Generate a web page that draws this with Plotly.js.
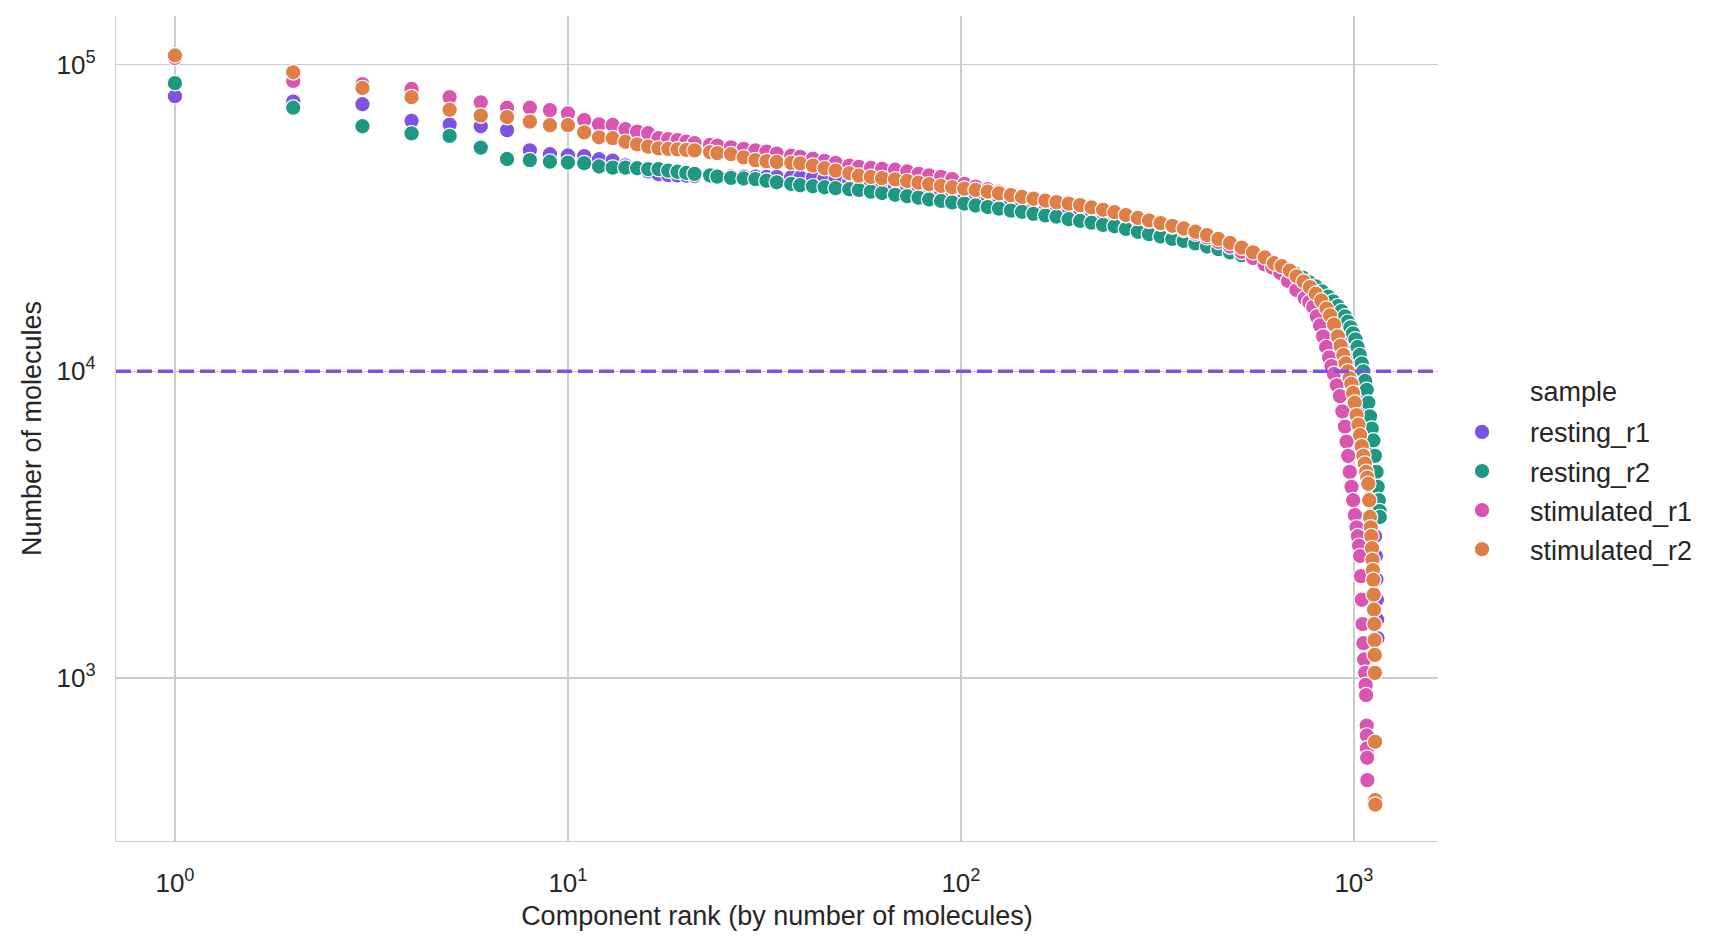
<!DOCTYPE html>
<html>
<head>
<meta charset="utf-8">
<script src="https://cdn.plot.ly/plotly-3.0.1.min.js"></script>
<style>
  html, body { margin: 0; padding: 0; background: #fff; }
  #myDiv { width: 1714px; height: 945px; }
</style>
</head>
<body>
<div id="myDiv"></div>
<script>
// component rank shared by all samples up to ~600
const HEAD_RANK = [1, 2, 3, 4, 5, 6, 7, 8, 9, 10, 11, 12, 13, 14, 15, 16, 17, 18, 19,
    20, 21, 23, 24, 26, 28, 30, 32, 34, 37, 39, 42, 45, 48, 52, 55, 59, 63, 68, 73,
    78, 83, 89, 95, 102, 109, 117, 125, 134, 143, 153, 164, 175, 188, 201, 215, 230, 246, 263, 282,
    301, 322, 345, 369, 395, 423, 452, 484, 518, 554, 593];

const RESTING_R1_HEAD = [78800, 75700, 74200, 65500, 63700, 62900, 61100, 52500, 51000, 50500, 50300, 49100, 48600, 46900, 45800, 44800, 43900, 43600, 43500,
    43400, 43300, 43300, 43200, 43200, 43100, 43100, 43000, 43000, 42900, 42800, 42700, 42500, 42200, 41800, 41400, 40900, 40400, 39800, 39300,
    38800, 38400, 37900, 37400, 37000, 36500, 36000, 35600, 35100, 34700, 34200, 33800, 33400, 32900, 32500, 32000, 31500, 31000, 30400, 29800,
    29300, 28700, 28200, 27600, 27000, 26400, 25800, 25100, 24400, 23700, 23000];
const RESTING_R2_HEAD = [86900, 72300, 62900, 59600, 58500, 53600, 49200, 48800, 48200, 47900, 47700, 46500, 46100, 46100, 45900, 45600, 45600, 45100, 44700,
    44300, 44000, 43500, 43100, 42700, 42500, 42300, 41800, 41300, 40800, 40400, 40100, 39800, 39500, 39200, 39000, 38500, 38100, 37600, 37200,
    36800, 36300, 35900, 35500, 35200, 34700, 34300, 33900, 33400, 33100, 32600, 32200, 31900, 31300, 30900, 30500, 30000, 29700, 29100, 28500,
    28000, 27500, 27000, 26600, 26100, 25500, 25000, 24400, 23900, 23400, 22900];
const STIMULATED_R1_HEAD = [105000, 88400, 86300, 83200, 78300, 75300, 72300, 72300, 71000, 69300, 65900, 63800, 63500, 61500, 60400, 59700, 57500, 57100, 56700,
    56000, 55400, 54700, 54400, 53700, 53100, 52500, 52000, 51200, 50400, 50000, 49300, 48500, 47800, 46800, 46400, 46000, 45700, 45400, 44800,
    44000, 43500, 43000, 42300, 40800, 40000, 39200, 38500, 37800, 37200, 36700, 36200, 35700, 35300, 34900, 34300, 33700, 33000, 32300, 31600,
    31000, 30300, 29600, 28900, 28100, 27300, 26400, 25500, 24500, 23400, 22300];
const STIMULATED_R2_HEAD = [107000, 94300, 83800, 78300, 71200, 68100, 67400, 65100, 63400, 63400, 60100, 57900, 57500, 56000, 54900, 54000, 53300, 53100, 52900,
    52700, 52500, 51800, 51400, 51000, 49800, 48800, 48400, 48100, 47800, 47600, 46800, 45900, 45100, 44200, 43400, 43000, 42600, 42200, 41700,
    41200, 40700, 40200, 39800, 39400, 39000, 38500, 38000, 37500, 37000, 36500, 36000, 35600, 35200, 34800, 34200, 33600, 33000, 32300, 31600,
    31000, 30400, 29800, 29200, 28500, 27800, 27000, 26200, 25300, 24400, 23500];

// tails: each sample has its own last ranks
const RESTING_R1_TAIL_RANK = [620, 660, 700, 740, 780, 820, 860, 900, 935, 965, 990, 1010, 1030, 1050, 1070, 1090, 1100, 1110, 1118, 1126, 1132, 1137, 1141, 1144, 1146, 1148];
const RESTING_R1_TAIL = [22400, 21500, 20500, 19500, 18300, 17000, 15600, 14200, 13000, 12200, 11200, 10300, 9300, 8300, 7300, 6200, 5400, 4700, 4000, 3400, 2900, 2500, 2100, 1800, 1550, 1350];

const RESTING_R2_TAIL_RANK = [620, 650, 680, 710, 740, 770, 800, 830, 860, 886, 910, 930, 949, 965, 980, 995, 1009, 1022, 1035, 1047, 1057, 1068, 1078, 1088, 1099, 1110, 1121, 1131, 1142, 1150, 1157, 1162, 1164];
const RESTING_R2_TAIL = [22500, 22000, 21400, 20800, 20200, 19500, 18900, 18200, 17500, 16900, 16300, 15700, 15100, 14500, 13900, 13300, 12700, 12000, 11300, 10600, 10000, 9300, 8700, 7900, 7130, 6500, 5950, 5300, 4700, 4200, 3800, 3500, 3350];

const STIMULATED_R1_TAIL_RANK = [620, 650, 680, 714, 750, 770, 788, 805, 820, 835, 850, 865, 877, 890, 905, 921, 935, 949, 958, 967, 976, 986, 996, 1006, 1016, 1024, 1031, 1037, 1042, 1047, 1052, 1057, 1062, 1068, 1071, 1074, 1078, 1079, 1080, 1081, 1082];
const STIMULATED_R1_TAIL = [21800, 20900, 19700, 18400, 17300, 16800, 16200, 15100, 14100, 13000, 12000, 11100, 10400, 9800, 9000, 8300, 7400, 6600, 5900, 5300, 4700, 4200, 3800, 3400, 3100, 2900, 2700, 2500, 2150, 1800, 1500, 1300, 1150, 1040, 950, 880, 700, 650, 590, 550, 465];

const STIMULATED_R2_TAIL_RANK = [626, 655, 687, 715, 745, 773, 800, 826, 852, 870, 890, 910, 925, 940, 952, 965, 975, 985, 995, 1005, 1016, 1027, 1037, 1047, 1057, 1066, 1075, 1082, 1088, 1094, 1099, 1104, 1108, 1112, 1115, 1118, 1121, 1123, 1125, 1127, 1129, 1130, 1131, 1132, 1133, 1134];
const STIMULATED_R2_TAIL = [22500, 22000, 21300, 20400, 19600, 18800, 17900, 17000, 16000, 15200, 14200, 13000, 12100, 11300, 10600, 10000, 9500, 9100, 8500, 7900, 7200, 6700, 6200, 5700, 5300, 5000, 4700, 4500, 4300, 3800, 3350, 3100, 2900, 2650, 2430, 2250, 2090, 1870, 1670, 1500, 1330, 1190, 1040, 620, 400, 387];

const SAMPLES = ['resting_r1', 'resting_r2', 'stimulated_r1', 'stimulated_r2'];
const COLORS = ['#8052e4', '#1f9883', '#d955b1', '#df7e45'];
const THRESHOLD = 10000;

const X_TICKS = [1, 10, 100, 1000];
const X_TICK_TEXT = ['10<sup>0</sup>', '10<sup>1</sup>', '10<sup>2</sup>', '10<sup>3</sup>'];
const Y_TICKS = [1000, 10000, 100000];
const Y_TICK_TEXT = ['10<sup>3</sup>', '10<sup>4</sup>', '10<sup>5</sup>'];

let heads = [RESTING_R1_HEAD, RESTING_R2_HEAD, STIMULATED_R1_HEAD, STIMULATED_R2_HEAD];
let tailRanks = [RESTING_R1_TAIL_RANK, RESTING_R2_TAIL_RANK, STIMULATED_R1_TAIL_RANK, STIMULATED_R2_TAIL_RANK];
let tails = [RESTING_R1_TAIL, RESTING_R2_TAIL, STIMULATED_R1_TAIL, STIMULATED_R2_TAIL];

let traces = [];
for (let i = 0; i < SAMPLES.length; i++) {
    traces.push({
        type: 'scatter',
        mode: 'markers',
        name: SAMPLES[i],
        legendgroup: SAMPLES[i],
        x: HEAD_RANK.concat(tailRanks[i]),
        y: heads[i].concat(tails[i]),
        marker: {size: 15.5, color: COLORS[i], line: {color: '#ffffff', width: 1.2}},
        hoverinfo: 'x+y+name'
    });
}

let font = {family: '"Liberation Sans", Arial, sans-serif', color: '#262626'};

var layout = {
    width: 1714,
    height: 945,
    margin: {l: 116, r: 276, t: 16, b: 104},
    paper_bgcolor: '#ffffff',
    plot_bgcolor: '#ffffff',
    font: font,
    showlegend: true,
    legend: {
        x: 0.997, xanchor: 'left',
        y: 0.525, yanchor: 'top',
        font: {family: font.family, color: font.color, size: 27},
        tracegroupgap: 1,
        itemwidth: 86,
        bgcolor: 'rgba(0,0,0,0)'
    },
    xaxis: {
        type: 'log',
        range: [-0.150, 3.214],
        tickvals: X_TICKS,
        ticktext: X_TICK_TEXT,
        ticks: '',
        ticklabelstandoff: 18,
        showgrid: true,
        gridcolor: '#cccccc',
        gridwidth: 1.3,
        showline: true,
        linecolor: '#cccccc',
        linewidth: 1.3,
        zeroline: false,
        tickfont: {size: 26, color: '#262626'},
        title: {text: 'Component rank (by number of molecules)', font: {size: 27, color: '#262626'}, standoff: 9}
    },
    yaxis: {
        type: 'log',
        range: [2.469, 5.158],
        tickvals: Y_TICKS,
        ticktext: Y_TICK_TEXT,
        ticks: '',
        ticklabelstandoff: 14,
        showgrid: true,
        gridcolor: '#cccccc',
        gridwidth: 1.3,
        showline: true,
        linecolor: '#cccccc',
        linewidth: 1.3,
        zeroline: false,
        tickfont: {size: 26, color: '#262626'},
        title: {text: 'Number of molecules', font: {size: 27, color: '#262626'}, standoff: 7}
    },
    shapes: [{
        type: 'line',
        xref: 'paper', x0: 0, x1: 1,
        yref: 'y', y0: THRESHOLD, y1: THRESHOLD,
        line: {color: COLORS[0], width: 3.5, dash: '15px,6px'},
        layer: 'above'
    }],
    annotations: [{
        text: 'sample',
        xref: 'paper', yref: 'paper',
        x: 1.068, y: 0.544,
        xanchor: 'left', yanchor: 'middle',
        showarrow: false,
        font: {size: 27, color: '#262626'}
    }]
};

Plotly.newPlot('myDiv', traces, layout, {displayModeBar: false, staticPlot: true});
</script>
</body>
</html>
